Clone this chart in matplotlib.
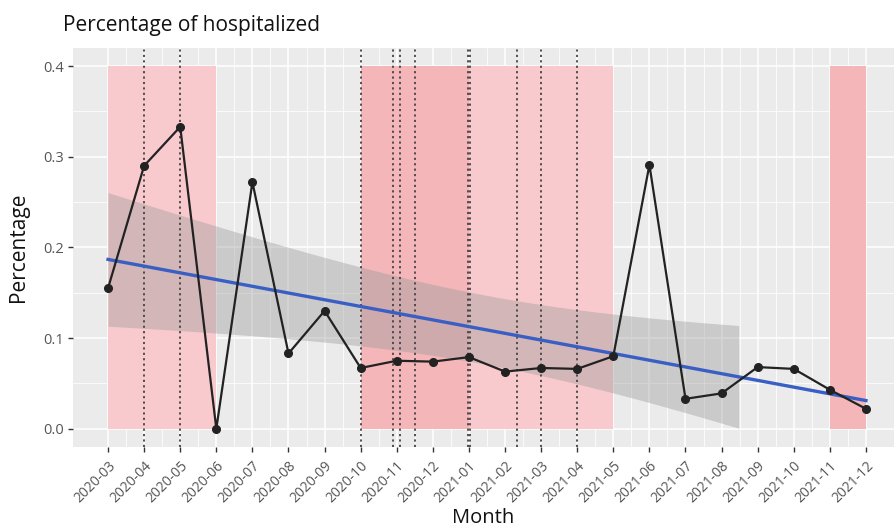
import matplotlib
matplotlib.use("Agg")
import matplotlib.pyplot as plt
import numpy as np

# monthly share of hospitalized cases
months = ["2020-03", "2020-04", "2020-05", "2020-06", "2020-07", "2020-08",
          "2020-09", "2020-10", "2020-11", "2020-12", "2021-01", "2021-02",
          "2021-03", "2021-04", "2021-05", "2021-06", "2021-07", "2021-08",
          "2021-09", "2021-10", "2021-11", "2021-12"]
percentage = [0.155, 0.290, 0.333, 0.000, 0.272, 0.083, 0.130, 0.067,
              0.075, 0.074, 0.079, 0.063, 0.067, 0.066, 0.080, 0.291,
              0.033, 0.039, 0.068, 0.066, 0.043, 0.022]

# shaded periods (month positions) and their shade
light_spans = [(0, 3), (10, 14)]
dark_spans = [(7, 10), (20, 21)]
# dotted event markers (month positions)
events = [1, 2, 7, 7.9, 8.1, 8.5, 9.97, 10.03, 11.33, 12, 13]

plt.rcParams["font.family"] = ["Open Sans", "DejaVu Sans"]

x = np.arange(len(months))
y = np.array(percentage)

fig = plt.figure(figsize=(8.94, 5.32), dpi=100)
ax = fig.add_axes([0.0817, 0.160, 0.918, 0.750])

ax.set_facecolor("#ebebeb")
ax.set_xlim(-0.97, 21.77)
ax.set_ylim(-0.02, 0.42)
ax.set_xticks(x)
ax.set_xticks(x[:-1] + 0.5, minor=True)
ax.set_yticks([0.0, 0.1, 0.2, 0.3, 0.4])
ax.set_yticks([0.05, 0.15, 0.25, 0.35], minor=True)
ax.grid(which="major", color="white", linewidth=1.1)
ax.grid(which="minor", color="white", linewidth=0.55)
ax.set_axisbelow(True)
for s in ax.spines.values():
    s.set_visible(False)

for a, b in light_spans:
    ax.fill_between([a, b], 0, 0.4, color="#f9cacd", linewidth=0, zorder=1)
for a, b in dark_spans:
    ax.fill_between([a, b], 0, 0.4, color="#f4b6b9", linewidth=0, zorder=1)

# linear fit with 95% band (cut where it leaves the y scale, as ggplot does)
coef = np.polyfit(x, y, 1)
fit = np.polyval(coef, x)
n = len(x)
s = np.sqrt(np.sum((y - fit) ** 2) / (n - 2))
xs = np.linspace(x.min(), x.max(), 400)
ys = np.polyval(coef, xs)
se = s * np.sqrt(1 / n + (xs - x.mean()) ** 2 / np.sum((x - x.mean()) ** 2))
lo, hi = ys - 2.086 * se, ys + 2.086 * se
keep = lo >= 0
ax.fill_between(xs[keep], lo[keep], hi[keep], color="#999999", alpha=0.4,
                linewidth=0, zorder=2)

for e in events:
    ax.axvline(e, color="#444444", linestyle=(0, (1.2, 1.8)), linewidth=1.3, zorder=3)

ax.plot(xs, ys, color="#3a5fc4", linewidth=2.4, zorder=4)
ax.plot(x, y, color="#222222", linewidth=1.6, marker="o", markersize=5.5, zorder=5)

ax.set_xticklabels(months, rotation=45, ha="right", rotation_mode="anchor",
                   fontsize=10, color="#555555")
ax.set_yticklabels(["0.0", "0.1", "0.2", "0.3", "0.4"], fontsize=10.5, color="#555555")
ax.tick_params(axis="x", which="major", length=3.5, width=1, color="#333333", pad=5)
ax.tick_params(axis="y", which="major", length=3.5, width=1, color="#333333", pad=3)
ax.tick_params(which="minor", length=0)

ax.set_xlabel("Month", fontsize=14.5, color="#111111", labelpad=1)
ax.set_ylabel("Percentage", fontsize=15, color="#111111", labelpad=10)
fig.text(0.070, 0.953, "Percentage of hospitalized", fontsize=15,
         color="#111111", ha="left", va="center")

fig.savefig("out.png", dpi=100)
